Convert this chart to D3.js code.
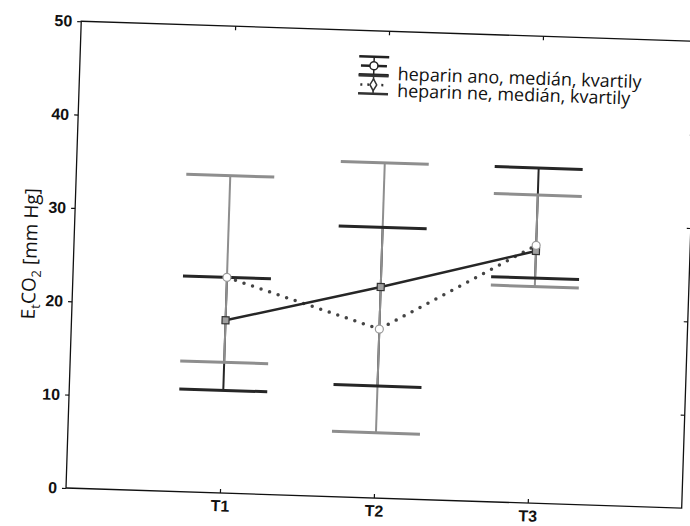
<!DOCTYPE html>
<html>
<head>
<meta charset="utf-8">
<script src="https://cdn.jsdelivr.net/npm/d3@7"></script>
<style>
  body { margin: 0; background: #fff; }
  .tick text { font-family: "Liberation Sans", Arial, sans-serif; font-weight: bold; font-size: 16px; fill: #111; }
</style>
</head>
<body>
<div id="chart"></div>
<script>
// data (EtCO2, medians and quartiles)
var cats = ["T1", "T2", "T3"];
var anoMed = [18.5, 22.6, 27.0];
var anoQ1 = [11.0, 12.0, 24.1];
var anoQ3 = [23.1, 29.0, 35.9];
var neMed = [23.1, 18.1, 27.6];
var neQ1 = [14.0, 7.0, 23.2];
var neQ3 = [34.0, 35.9, 33.0];
var yTicks = [0, 10, 20, 30, 40, 50];
var legendLabels = ["heparin ano, medián, kvartily", "heparin ne, medián, kvartily"];

var svgWidth = 690, svgHeight = 526;
var width = 616, height = 467;
var tilt = 1.87; // the scan is slightly rotated

var darkCol = "#262626", greyCol = "#8e8e8e";

var svg = d3.select("#chart").append("svg")
    .attr("width", svgWidth)
    .attr("height", svgHeight);

svg.append("rect").attr("width", svgWidth).attr("height", svgHeight).attr("fill", "#fff");

var chartGroup = svg.append("g")
    .attr("transform", `translate(66, 488) rotate(${tilt}) translate(0, ${-height})`);

var xScale = d3.scalePoint().domain(cats).range([0, width]).padding(1);
var yScale = d3.scaleLinear().domain([0, 50]).range([height, 0]);

// axes
var leftAxis = d3.axisLeft(yScale).tickValues(yTicks).tickSize(4).tickPadding(5);
chartGroup.append("g").call(leftAxis).call(g => g.select(".domain").remove());

var bottomAxis = d3.axisBottom(xScale).tickSize(-4).tickPadding(7);
chartGroup.append("g").attr("transform", `translate(0, ${height})`)
    .call(bottomAxis).call(g => g.select(".domain").remove());

// mirrored inner ticks on top and right
chartGroup.append("g").call(d3.axisTop(xScale).tickSize(-4).tickFormat(""))
    .call(g => g.select(".domain").remove());
chartGroup.append("g").attr("transform", `translate(${width}, 0)`)
    .call(d3.axisRight(yScale).tickValues([10, 20, 30, 40]).tickSize(-4).tickFormat(""))
    .call(g => g.select(".domain").remove());

chartGroup.selectAll(".tick line").attr("stroke", "#111").attr("stroke-width", 1.2);

// frame
chartGroup.append("rect")
    .attr("width", width).attr("height", height)
    .attr("fill", "none").attr("stroke", "#111").attr("stroke-width", 1.3);

// y label
var yLabel = chartGroup.append("text")
    .attr("transform", `translate(-37, 234) rotate(-90)`)
    .attr("text-anchor", "middle")
    .style("font-family", "'Open Sans', sans-serif")
    .style("font-size", "19px")
    .attr("fill", "#111");
yLabel.append("tspan").text("E");
yLabel.append("tspan").text("t").attr("dy", 5).style("font-size", "13px");
yLabel.append("tspan").text("CO").attr("dy", -5);
yLabel.append("tspan").text("2").attr("dy", 5).style("font-size", "13px");
yLabel.append("tspan").text(" [mm Hg]").attr("dy", -5);

var capHalf = 44;

function drawWhiskers(q1, q3, col) {
    chartGroup.selectAll(null).data(cats).enter().append("line")
        .attr("x1", d => xScale(d)).attr("x2", d => xScale(d))
        .attr("y1", (d, i) => yScale(q1[i])).attr("y2", (d, i) => yScale(q3[i]))
        .attr("stroke", col).attr("stroke-width", 2);
}
function drawCaps(vals, col) {
    chartGroup.selectAll(null).data(cats).enter().append("line")
        .attr("x1", d => xScale(d) - capHalf).attr("x2", d => xScale(d) + capHalf)
        .attr("y1", (d, i) => yScale(vals[i])).attr("y2", (d, i) => yScale(vals[i]))
        .attr("stroke", col).attr("stroke-width", 3);
}

drawWhiskers(anoQ1, anoQ3, darkCol);
drawWhiskers(neQ1, neQ3, greyCol);
drawCaps(neQ1, greyCol);
drawCaps(neQ3, greyCol);
drawCaps(anoQ1, darkCol);
drawCaps(anoQ3, darkCol);

// median lines
var line = d3.line().x((d, i) => xScale(cats[i])).y(d => yScale(d));

chartGroup.append("path").datum(neMed)
    .attr("d", line).attr("fill", "none")
    .attr("stroke", "#444").attr("stroke-width", 3.5)
    .attr("stroke-linecap", "round").attr("stroke-dasharray", "0,9");

chartGroup.append("path").datum(anoMed)
    .attr("d", line).attr("fill", "none")
    .attr("stroke", darkCol).attr("stroke-width", 2.5);

// markers
chartGroup.selectAll(null).data(anoMed).enter().append("rect")
    .attr("x", (d, i) => xScale(cats[i]) - 3.5).attr("y", d => yScale(d) - 3.5)
    .attr("width", 7).attr("height", 7)
    .attr("fill", "#a0a0a0").attr("stroke", "#333").attr("stroke-width", 1.2);

chartGroup.selectAll(null).data(neMed).enter().append("circle")
    .attr("cx", (d, i) => xScale(cats[i])).attr("cy", d => yScale(d))
    .attr("r", 4).attr("fill", "#fff").attr("stroke", "#999").attr("stroke-width", 1.2);

// legend
var legend = chartGroup.append("g").attr("transform", "translate(279, 0)");
var legRows = [35, 54];

legRows.forEach(function(cy, i) {
    var col = i === 0 ? "#222" : "#333";
    var g = legend.append("g").attr("transform", `translate(0, ${cy})`);
    [-9, 9].forEach(function(dy) {
        g.append("line").attr("x1", 0).attr("x2", 30).attr("y1", dy).attr("y2", dy)
            .attr("stroke", col).attr("stroke-width", 2.5);
    });
    g.append("line").attr("x1", 15).attr("x2", 15).attr("y1", -9).attr("y2", 9)
        .attr("stroke", col).attr("stroke-width", 1.5);
    g.append("line").attr("x1", 2).attr("x2", 28).attr("y1", 0).attr("y2", 0)
        .attr("stroke", col).attr("stroke-width", 2.5)
        .attr("stroke-dasharray", i === 0 ? null : "2,5");
    if (i === 0) {
        g.append("circle").attr("cx", 15).attr("cy", 0).attr("r", 4)
            .attr("fill", "#fff").attr("stroke", col).attr("stroke-width", 1.5);
    } else {
        g.append("path").attr("d", d3.symbol(d3.symbolDiamond, 40)())
            .attr("transform", "translate(15, 0)")
            .attr("fill", "#fff").attr("stroke", col).attr("stroke-width", 1.5);
    }
});

legend.selectAll(null).data(legendLabels).enter().append("text")
    .attr("x", 39)
    .attr("y", (d, i) => 48.6 + i * 16.7)
    .style("font-family", "'Open Sans', sans-serif")
    .style("font-size", "18px")
    .attr("fill", "#111")
    .text(d => d);
</script>
</body>
</html>
